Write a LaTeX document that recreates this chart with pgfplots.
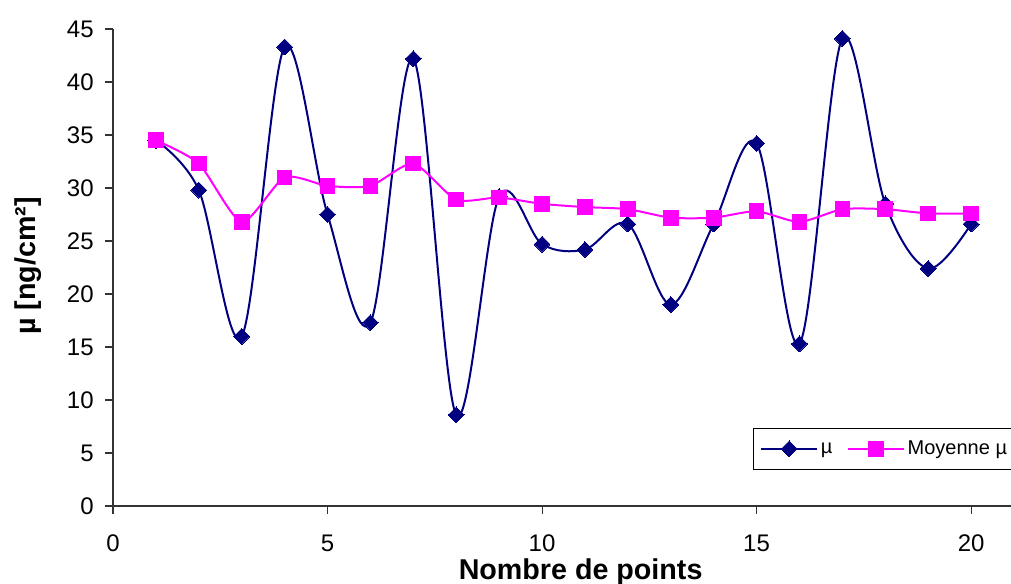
\documentclass[border=0pt]{standalone}
\usepackage{pgfplots}
\pgfplotsset{compat=1.18}
\usepackage{fontspec}
\setmainfont{Liberation Sans}
\definecolor{navyline}{RGB}{0,0,128}
\definecolor{magline}{RGB}{255,0,255}
\pgfplotstableread{
x mu
1 34.5
2 29.8
3 16.0
4 43.3
5 27.5
6 17.3
7 42.2
8 8.6
9 29.2
10 24.7
11 24.2
12 26.6
13 19.0
14 26.6
15 34.2
16 15.3
17 44.1
18 28.5
19 22.4
20 26.6
}\mudata
\pgfplotstableread{
x moy
1 34.5
2 32.3
3 26.8
4 31.0
5 30.2
6 30.2
7 32.3
8 28.9
9 29.1
10 28.5
11 28.2
12 28.0
13 27.2
14 27.2
15 27.8
16 26.8
17 28.0
18 28.0
19 27.6
20 27.6
}\moydata
\begin{document}
\begin{tikzpicture}
\begin{axis}[
  at={(0,0)}, anchor=south west,
  scale only axis,
  width=675.75pt, height=357.75pt,
  xmin=0, xmax=21, ymin=0, ymax=45,
  xtick={0,5,10,15,20},
  ytick={0,5,...,45},
  axis x line*=bottom, axis y line*=left,
  axis line style={line width=0.8pt, black!80},
  tick align=outside, major tick length=6pt,
  tick style={line width=0.8pt, black!80},
  /pgf/number format/assume math mode=true,
  ticklabel style={font=\fontsize{18}{20}\selectfont},
  xticklabel style={anchor=base, yshift=-28.5pt},
  yticklabel style={anchor=base east, xshift=-5pt, yshift=-6.5pt},
  xlabel={\textbf{Nombre de points}},
  xlabel style={font=\fontsize{21.5}{24}\selectfont, at={(axis description cs:0.519,0)}, anchor=base, yshift=-55pt},
  ylabel={\textbf{µ [ng/cm²]}},
  ylabel style={font=\fontsize{21.5}{24}\selectfont, at={(axis description cs:-0.0943,0.503)}, anchor=center},
  legend columns=2,
  legend style={at={(axis description cs:0.7103,0.0755)}, anchor=south west,
    draw=black, line width=0.8pt, font=\fontsize{15}{17}\selectfont,
    inner xsep=5pt, inner ysep=7.6pt,
    /tikz/every even column/.append style={column sep=9pt}},
  legend image code/.code={\draw[mark repeat=2,mark phase=2,#1] plot coordinates {(0pt,0pt)(21pt,0pt)(42pt,0pt)};},
  clip=true,
]
\addplot[navyline, line width=1.5pt, smooth, tension=0.55,
  mark=square*, mark size=4.2pt, mark options={rotate=45, solid, fill=navyline, line width=0pt}]
  table[x=x, y=mu] {\mudata};
\addlegendentry{µ}
\addplot[magline, line width=1.5pt, smooth, tension=0.4,
  mark=square*, mark size=5.5pt, mark options={solid, fill=magline, line width=0pt}]
  table[x=x, y=moy] {\moydata};
\addlegendentry{Moyenne µ}
\end{axis}
\pgfresetboundingbox
\path (-84.75pt,-58.5pt) rectangle (673.5pt,379.5pt);
\end{tikzpicture}
\end{document}
